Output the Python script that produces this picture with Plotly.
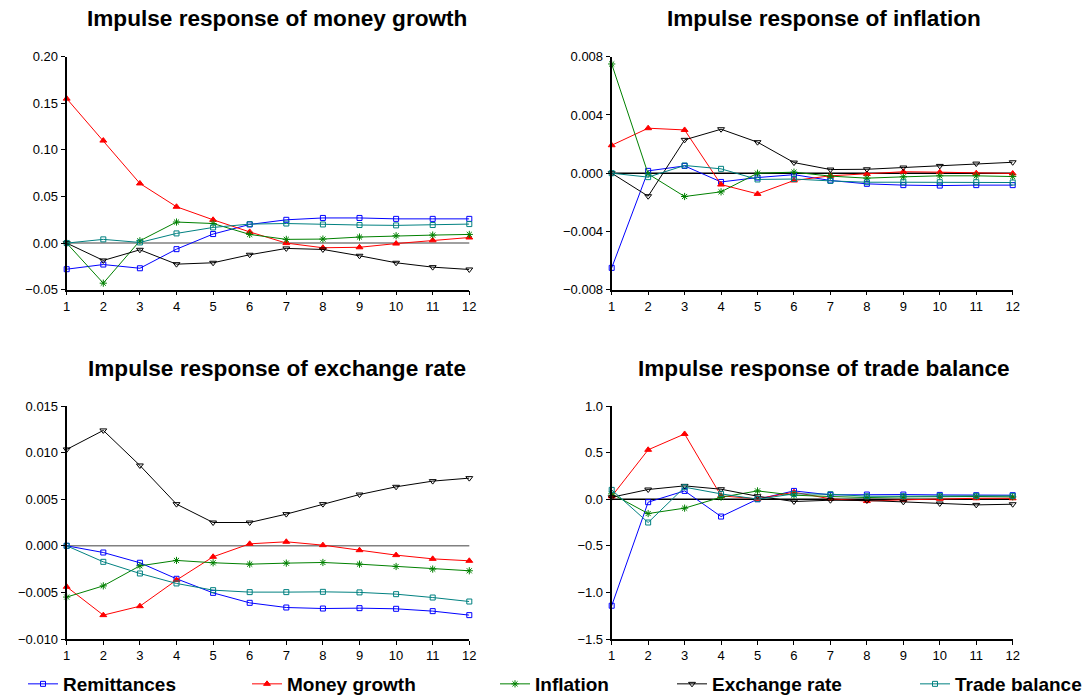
import plotly.graph_objects as go
from plotly.subplots import make_subplots

periods = list(range(1, 13))
series_names = ["Remittances", "Money growth", "Inflation", "Exchange rate", "Trade balance"]

# Impulse response of money growth
mg_remit = [-0.028, -0.023, -0.027, -0.0065, 0.0097, 0.020, 0.025, 0.027, 0.027, 0.026, 0.026, 0.026]
mg_money = [0.155, 0.110, 0.064, 0.039, 0.025, 0.012, 0.0, -0.005, -0.0045, -0.0005, 0.003, 0.006]
mg_infl = [0.0, -0.043, 0.0025, 0.0226, 0.021, 0.0093, 0.004, 0.0043, 0.0065, 0.0079, 0.0086, 0.0093]
mg_exch = [0.0, -0.0186, -0.0072, -0.0226, -0.0211, -0.0125, -0.0057, -0.0068, -0.0136, -0.0211, -0.0258, -0.0283]
mg_trade = [0.0, 0.004, 0.0007, 0.0104, 0.0168, 0.0204, 0.021, 0.020, 0.0194, 0.019, 0.0194, 0.0204]

# Impulse response of inflation
inf_remit = [-0.0065, 0.00016, 0.0005, -0.0006, -0.0003, -0.0001, -0.0005, -0.00073, -0.00082, -0.00085, -0.00082, -0.00082]
inf_money = [0.00192, 0.00309, 0.00297, -0.00078, -0.00142, -0.0005, -0.00018, -0.00005, 0.0001, 0.00007, 0.0, -0.00002]
inf_infl = [0.0075, -0.00005, -0.0016, -0.00128, 0.0, 0.00007, -0.0002, -0.00034, -0.00025, -0.00018, -0.00018, -0.00023]
inf_exch = [0.0, -0.00158, 0.00229, 0.00302, 0.00213, 0.00073, 0.00025, 0.00027, 0.00039, 0.0005, 0.00066, 0.00075]
inf_trade = [0.0, -0.00027, 0.00053, 0.0003, -0.00043, -0.0004, -0.00053, -0.00062, -0.00062, -0.00062, -0.00062, -0.00064]

# Impulse response of exchange rate
ex_remit = [0.0, -0.00072, -0.00182, -0.00354, -0.00505, -0.00612, -0.00662, -0.00673, -0.00669, -0.00676, -0.00701, -0.00744]
ex_money = [-0.0044, -0.00744, -0.00648, -0.00368, -0.00118, 0.00021, 0.00043, 0.00007, -0.00047, -0.001, -0.0014, -0.00161]
ex_infl = [-0.0055, -0.0043, -0.00215, -0.00157, -0.00182, -0.00197, -0.00186, -0.00179, -0.00197, -0.00222, -0.0025, -0.00268]
ex_exch = [0.01034, 0.01238, 0.00862, 0.00447, 0.0025, 0.0025, 0.0034, 0.00447, 0.0055, 0.00633, 0.00694, 0.00726]
ex_trade = [0.0, -0.00172, -0.00297, -0.00404, -0.00476, -0.00497, -0.00497, -0.00494, -0.005, -0.00519, -0.00555, -0.00598]

# Impulse response of trade balance
tb_remit = [-1.143, -0.032, 0.089, -0.186, 0.0, 0.089, 0.046, 0.05, 0.05, 0.046, 0.043, 0.043]
tb_money = [0.03, 0.53, 0.70, 0.036, 0.004, 0.075, 0.004, -0.02, -0.007, 0.004, 0.01, 0.01]
tb_infl = [0.057, -0.154, -0.096, 0.021, 0.089, 0.043, 0.029, 0.018, 0.025, 0.029, 0.029, 0.025]
tb_exch = [0.021, 0.104, 0.143, 0.107, 0.032, -0.025, -0.011, -0.014, -0.029, -0.046, -0.061, -0.054]
tb_trade = [0.1, -0.25, 0.129, 0.057, 0.0, 0.057, 0.054, 0.032, 0.032, 0.036, 0.036, 0.036]

titles = ["Impulse response of money growth", "Impulse response of inflation",
          "Impulse response of exchange rate", "Impulse response of trade balance"]

panels = [
    [mg_remit, mg_money, mg_infl, mg_exch, mg_trade],
    [inf_remit, inf_money, inf_infl, inf_exch, inf_trade],
    [ex_remit, ex_money, ex_infl, ex_exch, ex_trade],
    [tb_remit, tb_money, tb_infl, tb_exch, tb_trade],
]

colors = ["#0000FF", "#FF0000", "#008000", "#000000", "#008080"]
symbols = ["square-open", "triangle-up", "asterisk-open", "triangle-down-open", "square-open"]
msizes = [5, 6, 6, 6, 5]

y_ranges = [[-0.05, 0.20], [-0.008, 0.008], [-0.010, 0.015], [-1.5, 1.0]]
y_dticks = [0.05, 0.004, 0.005, 0.5]
y_formats = [".2f", ".3f", ".3f", ".1f"]
zero_colors = ["#808080", "#000000", "#808080", "#000000"]

fig = make_subplots(rows=2, cols=2)

W, H = 1083, 697
x_doms = [[66.7 / W, 469.3 / W], [611.7 / W, 1012.7 / W]]
y_doms = [[1 - 289.7 / H, 1 - 56.7 / H], [1 - 639.0 / H, 1 - 406.0 / H]]
title_cx = [277 / W, 824 / W]

legend_names = ["legend", "legend2", "legend3", "legend4", "legend5"]

for p, data in enumerate(panels):
    r, c = p // 2 + 1, p % 2 + 1
    for s, vals in enumerate(data):
        fig.add_trace(go.Scatter(
            x=periods, y=vals, mode="lines+markers", name=series_names[s],
            line=dict(color=colors[s], width=1),
            marker=dict(symbol=symbols[s], size=msizes[s], color=colors[s],
                        line=dict(color=colors[s], width=1)),
            cliponaxis=False,
            showlegend=(p == 0), legend=legend_names[s],
        ), row=r, col=c)

axis_font = dict(family="Liberation Sans, Arial, sans-serif", size=13, color="#000000")
for p in range(4):
    r, c = p // 2 + 1, p % 2 + 1
    xa = "xaxis" if p == 0 else f"xaxis{p+1}"
    ya = "yaxis" if p == 0 else f"yaxis{p+1}"
    fig.layout[xa].update(domain=x_doms[c - 1], range=[1, 12], tickmode="array",
                          tickvals=periods, ticks="outside", ticklen=4, tickcolor="#000",
                          showline=True, linecolor="#000", linewidth=1.5,
                          showgrid=False, zeroline=False, tickfont=axis_font)
    fig.layout[ya].update(domain=y_doms[r - 1], range=y_ranges[p], dtick=y_dticks[p],
                          tick0=0, tickformat=y_formats[p], ticks="outside", ticklen=4,
                          tickcolor="#000", showline=True, linecolor="#000", linewidth=2,
                          showgrid=False, zeroline=False, tickfont=axis_font)
    xref = "x" if p == 0 else f"x{p+1}"
    yref = "y" if p == 0 else f"y{p+1}"
    fig.add_shape(type="line", xref=f"{xref} domain", yref=yref, x0=0, x1=1, y0=0, y1=0,
                  line=dict(color=zero_colors[p], width=1.5), layer="below")
    ty = 1 - (18 if r == 1 else 368) / H
    fig.add_annotation(text=f"<b>{titles[p]}</b>", xref="paper", yref="paper",
                       x=title_cx[c - 1], y=ty,
                       xanchor="center", yanchor="middle", showarrow=False,
                       font=dict(family="Liberation Sans, Arial, sans-serif", size=22.6, color="#000"))

legend_font = dict(family="Liberation Sans, Arial, sans-serif", size=19, color="#000")
text_starts = [65, 289, 537, 714, 957]
leg_layout = {}
for i, ln in enumerate(legend_names):
    leg_layout[ln] = dict(x=(text_starts[i] - 42) / W, y=1 - 684 / H, xanchor="left",
                          yanchor="middle", orientation="h", font=legend_font,
                          bgcolor="rgba(0,0,0,0)", borderwidth=0)

fig.update_layout(
    width=W, height=H, margin=dict(l=0, r=0, t=0, b=0, autoexpand=False),
    paper_bgcolor="#FFFFFF", plot_bgcolor="#FFFFFF",
    **leg_layout,
)
for ln in legend_names:
    fig.layout[ln].font.weight = "bold"

fig.write_html("out.html", config={"displayModeBar": False},
               post_script="document.body.style.margin='0';document.body.style.padding='0';document.body.style.overflow='hidden';")
